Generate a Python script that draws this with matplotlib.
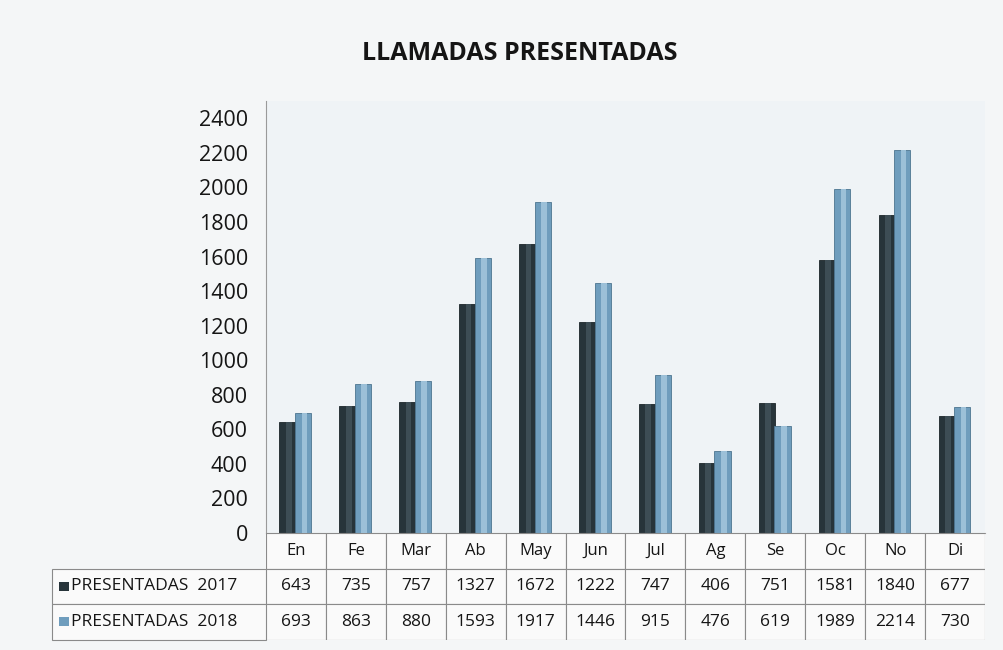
import numpy as np
import matplotlib
matplotlib.use('Agg')
import matplotlib.pyplot as plt
from matplotlib.patches import Rectangle

months = ['En', 'Fe', 'Mar', 'Ab', 'May', 'Jun', 'Jul', 'Ag', 'Se', 'Oc', 'No', 'Di']
pres_2017 = [643, 735, 757, 1327, 1672, 1222, 747, 406, 751, 1581, 1840, 677]
pres_2018 = [693, 863, 880, 1593, 1917, 1446, 915, 476, 619, 1989, 2214, 730]
series_names = ['PRESENTADAS  2017', 'PRESENTADAS  2018']
yticks = list(range(0, 2401, 200))

DARK = '#27343a'
LIGHT = '#6f9dbd'
BG = '#eff3f6'

plt.rcParams['font.family'] = ['Open Sans', 'DejaVu Sans']

W, H = 1004, 650
fig = plt.figure(figsize=(W / 100, H / 100), dpi=100, facecolor='#f4f6f7')

def fx(px):
    return px / W

def fy(py):
    return 1 - py / H

# main chart area
left, right, bottom, top = 266, 985, 533, 101
ax = fig.add_axes([fx(left), fy(bottom), fx(right - left), fy(top) - fy(bottom)])
ax.set_facecolor(BG)
x = np.arange(len(months))
bw = 0.27
ax.bar(x - 0.14, pres_2017, bw, color=DARK, edgecolor='#1c2529', lw=0.6, zorder=2)
ax.bar(x + 0.12, pres_2018, bw, color=LIGHT, edgecolor='#4d7590', lw=0.6, zorder=2)
# cylinder-ish highlight
ax.bar(x - 0.12, pres_2017, bw * 0.35, color='#3d4d55', lw=0, zorder=3)
ax.bar(x + 0.14, pres_2018, bw * 0.35, color='#9cc0d8', lw=0, zorder=3)

ax.set_xlim(-0.5, len(months) - 0.5)
ax.set_ylim(0, 2500)
ax.set_yticks(yticks)
ax.tick_params(axis='y', length=0, labelsize=15.5, pad=13, labelcolor='#151515')
ax.set_xticks([])
for s in ['top', 'right']:
    ax.spines[s].set_visible(False)
ax.spines['left'].set_color('#9a9a9a')
ax.spines['bottom'].set_color('#9a9a9a')

fig.text(fx(520), fy(53), 'LLAMADAS PRESENTADAS', ha='center', va='center',
         fontsize=18, fontweight='bold', color='#151515')

# data table below the chart
tab = fig.add_axes([fx(left), fy(640), fx(right - left), fy(533) - fy(640)])
tab.set_xlim(-0.5, len(months) - 0.5)
tab.set_ylim(0, 3)
tab.axis('off')
lab_x0 = -0.5 - (left - 52) / ((right - left) / len(months))
lc = '#8a8a8a'
# header row
for i, m in enumerate(months):
    tab.add_patch(Rectangle((i - 0.5, 2), 1, 1, facecolor='#fafafa', edgecolor=lc, lw=0.8))
    tab.text(i, 2.5, m, ha='center', va='center', fontsize=12, fontweight='medium',
             color='#151515')
rows = [pres_2017, pres_2018]
colors = [DARK, LIGHT]
for r, (vals, name, c) in enumerate(zip(rows, series_names, colors)):
    y0 = 1 - r
    tab.add_patch(Rectangle((lab_x0, y0), -0.5 - lab_x0, 1, facecolor='#fafafa',
                            edgecolor=lc, lw=0.8, clip_on=False))
    tab.add_patch(Rectangle((lab_x0 + 0.12, y0 + 0.38), 0.16, 0.26, facecolor=c,
                            edgecolor='none', clip_on=False))
    tab.text(lab_x0 + 0.32, y0 + 0.5, name, ha='left', va='center', fontsize=12.5,
             fontweight='medium', color='#151515', clip_on=False)
    for i, v in enumerate(vals):
        tab.add_patch(Rectangle((i - 0.5, y0), 1, 1, facecolor='#fafafa', edgecolor=lc, lw=0.8))
        tab.text(i, y0 + 0.5, str(v), ha='center', va='center', fontsize=12.5,
                 fontweight='medium', color='#151515')

fig.savefig('out.png', dpi=100, facecolor=fig.get_facecolor())
